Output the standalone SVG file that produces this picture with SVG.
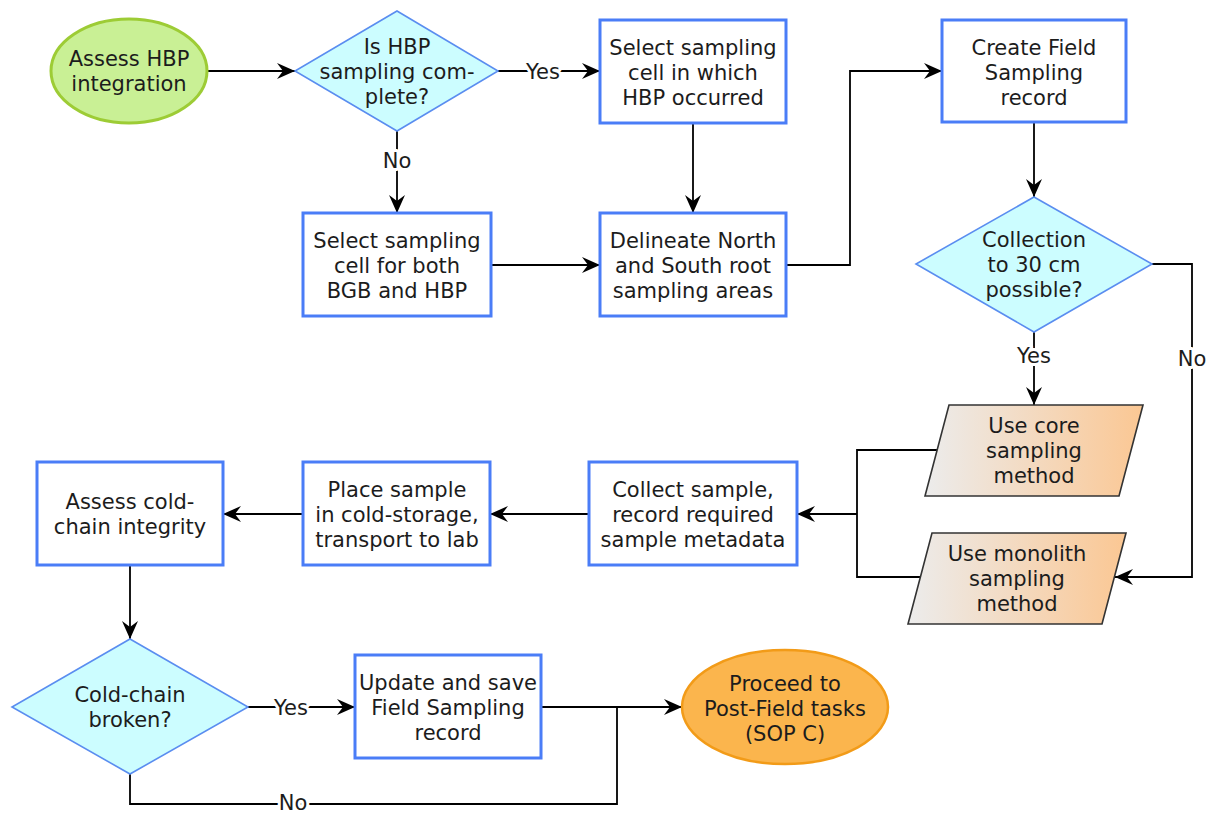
<svg xmlns="http://www.w3.org/2000/svg" width="1210" height="814" viewBox="0 0 1210 814">
<defs>
<linearGradient id="para" x1="0" y1="0" x2="1" y2="0">
<stop offset="0" stop-color="#ececec"/>
<stop offset="1" stop-color="#fbc793"/>
</linearGradient>
<marker id="arr" markerUnits="userSpaceOnUse" markerWidth="20" markerHeight="18" refX="18" refY="9" orient="auto">
<path d="M0,1 L18,9 L0,17 L6,9 Z" fill="#000"/>
</marker>
<style>
text{font-family:"DejaVu Sans","Liberation Sans",sans-serif;font-size:21px;fill:#1c1c1c;text-anchor:middle}
.box{fill:#fff;stroke:#4a7df7;stroke-width:3}
.dia{fill:#ccfdff;stroke:#5a8df0;stroke-width:1.6}
.para{fill:url(#para);stroke:#333;stroke-width:1.6}
.start{fill:#c9f095;stroke:#9dcc35;stroke-width:3}
.end{fill:#fbb54d;stroke:#f29b18;stroke-width:2.5}
.c{fill:none;stroke:#000;stroke-width:1.8}
.lbl{stroke:#fff;stroke-width:6;paint-order:stroke;stroke-linejoin:round}
</style>
</defs>
<rect width="1210" height="814" fill="#fff"/>

<g id="connectors">
<path class="c" d="M207,71 H295" marker-end="url(#arr)"/>
<path class="c" d="M498,71 H600" marker-end="url(#arr)"/>
<path class="c" d="M397,131 V213" marker-end="url(#arr)"/>
<path class="c" d="M693,123 V213" marker-end="url(#arr)"/>
<path class="c" d="M491,265 H600" marker-end="url(#arr)"/>
<path class="c" d="M786,265 H850 V71 H942" marker-end="url(#arr)"/>
<path class="c" d="M1034,122 V197" marker-end="url(#arr)"/>
<path class="c" d="M1034,332 V405" marker-end="url(#arr)"/>
<path class="c" d="M1152,264 H1192 V577 H1115" marker-end="url(#arr)"/>
<path class="c" d="M938,450 H857 V577 H920"/>
<path class="c" d="M857,514 H797" marker-end="url(#arr)"/>
<path class="c" d="M589,514 H490" marker-end="url(#arr)"/>
<path class="c" d="M303,514 H223" marker-end="url(#arr)"/>
<path class="c" d="M130,565 V639" marker-end="url(#arr)"/>
<path class="c" d="M248,707 H355" marker-end="url(#arr)"/>
<path class="c" d="M541,707 H682" marker-end="url(#arr)"/>
<path class="c" d="M130,774 V804 H617 V707"/>
<text class="lbl" x="543" y="79">Yes</text>
<text class="lbl" x="397" y="168">No</text>
<text class="lbl" x="1034" y="363">Yes</text>
<text class="lbl" x="1192" y="366">No</text>
<text class="lbl" x="291" y="715">Yes</text>
<text class="lbl" x="293" y="810">No</text>
</g>

<g id="start">
<ellipse class="start" cx="129" cy="71" rx="78" ry="52"/>
<text x="129" y="66">Assess HBP</text>
<text x="129" y="91">integration</text>
</g>

<g id="d-hbp-complete">
<polygon class="dia" points="397,11 498,71 397,131 295,71"/>
<text x="397" y="54">Is HBP</text>
<text x="397" y="79">sampling com-</text>
<text x="397" y="104">plete?</text>
</g>

<g id="select-hbp-cell">
<rect class="box" x="600" y="20" width="186" height="103"/>
<text x="693" y="55">Select sampling</text>
<text x="693" y="80">cell in which</text>
<text x="693" y="105">HBP occurred</text>
</g>

<g id="select-both-cell">
<rect class="box" x="303" y="213" width="188" height="103"/>
<text x="397" y="248">Select sampling</text>
<text x="397" y="273">cell for both</text>
<text x="397" y="298">BGB and HBP</text>
</g>

<g id="delineate">
<rect class="box" x="600" y="213" width="186" height="103"/>
<text x="693" y="248">Delineate North</text>
<text x="693" y="273">and South root</text>
<text x="693" y="298">sampling areas</text>
</g>

<g id="create-record">
<rect class="box" x="942" y="20" width="184" height="102"/>
<text x="1034" y="55">Create Field</text>
<text x="1034" y="80">Sampling</text>
<text x="1034" y="105">record</text>
</g>

<g id="d-collection">
<polygon class="dia" points="1034,197 1152,264 1034,332 916,264"/>
<text x="1034" y="247">Collection</text>
<text x="1034" y="272">to 30 cm</text>
<text x="1034" y="297">possible?</text>
</g>

<g id="core-method">
<polygon class="para" points="949,405 1143,405 1119,496 925,496"/>
<text x="1034" y="433">Use core</text>
<text x="1034" y="458">sampling</text>
<text x="1034" y="483">method</text>
</g>

<g id="monolith-method">
<polygon class="para" points="932,533 1126,533 1102,624 908,624"/>
<text x="1017" y="561">Use monolith</text>
<text x="1017" y="586">sampling</text>
<text x="1017" y="611">method</text>
</g>

<g id="collect-sample">
<rect class="box" x="589" y="462" width="208" height="103"/>
<text x="693" y="497">Collect sample,</text>
<text x="693" y="522">record required</text>
<text x="693" y="547">sample metadata</text>
</g>

<g id="place-sample">
<rect class="box" x="303" y="462" width="187" height="103"/>
<text x="397" y="497">Place sample</text>
<text x="397" y="522">in cold-storage,</text>
<text x="397" y="547">transport to lab</text>
</g>

<g id="assess-cold-chain">
<rect class="box" x="37" y="462" width="186" height="103"/>
<text x="130" y="509">Assess cold-</text>
<text x="130" y="534">chain integrity</text>
</g>

<g id="d-cold-chain">
<polygon class="dia" points="130,639 248,707 130,774 12,707"/>
<text x="130" y="702">Cold-chain</text>
<text x="130" y="727">broken?</text>
</g>

<g id="update-record">
<rect class="box" x="355" y="655" width="186" height="103"/>
<text x="448" y="690">Update and save</text>
<text x="448" y="715">Field Sampling</text>
<text x="448" y="740">record</text>
</g>

<g id="end">
<ellipse class="end" cx="785" cy="707" rx="103" ry="57"/>
<text x="785" y="691">Proceed to</text>
<text x="785" y="716">Post-Field tasks</text>
<text x="785" y="741">(SOP C)</text>
</g>
</svg>
